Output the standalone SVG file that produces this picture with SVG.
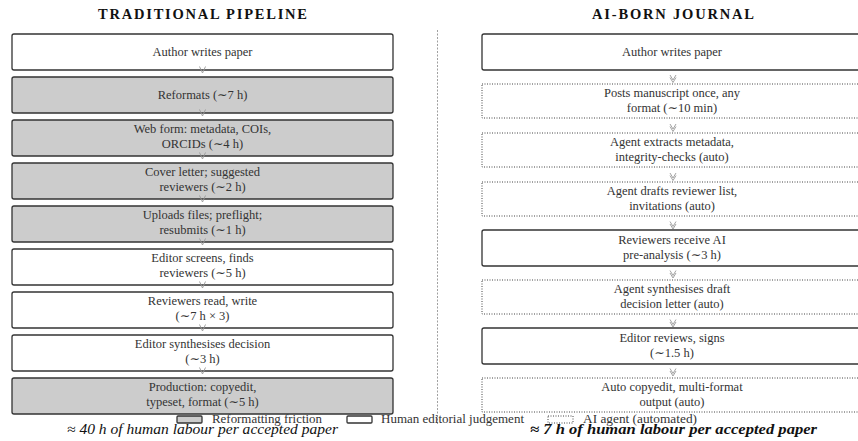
<svg xmlns="http://www.w3.org/2000/svg" xmlns:xlink="http://www.w3.org/1999/xlink" width="858" height="441" viewBox="0 0 858 441">
<style>
text{font-family:"Liberation Serif","DejaVu Serif",serif;fill:#333;font-size:12.5px;text-anchor:middle}
.title{font-weight:bold;fill:#111;font-size:14.5px}
.box{stroke:#333;stroke-width:1.3}
.friction{fill:#cccccc}
.human{fill:#ffffff}
.agent{fill:#ffffff;stroke:#444;stroke-width:1;stroke-dasharray:1 1.5}
.arr{fill:none;stroke:#999;stroke-width:0.9}
.foot{font-style:italic;font-size:14px;fill:#111}
.leg{text-anchor:start}
</style>
<defs>
<path id="v1" class="arr" d="M-3,-3.5 L0,3 L3,-3.5"/>
<g id="v2"><path class="arr" d="M-3,-3 L0,2 L3,-3"/><path class="arr" d="M-3,-0.5 L0,4.5 L3,-0.5"/></g>
</defs>
<rect width="858" height="441" fill="#fff"/>

<text class="title" x="202.5" y="18.5" textLength="209" lengthAdjust="spacing">TRADITIONAL PIPELINE</text>
<text class="title" x="673" y="18.5" textLength="162" lengthAdjust="spacing">AI-BORN JOURNAL</text>

<line x1="437.5" y1="30" x2="437.5" y2="424" stroke="#888" stroke-width="0.8" stroke-dasharray="2 1.5"/>

<g id="left-nodes">
<g id="L1"><rect class="box human" x="12" y="34" width="381" height="36" rx="2"/><text x="202.5" y="56">Author writes paper</text></g>
<g id="L2"><rect class="box friction" x="12" y="77" width="381" height="36" rx="2"/><text x="202.5" y="99">Reformats (∼7 h)</text></g>
<g id="L3"><rect class="box friction" x="12" y="120" width="381" height="36" rx="2"/><text x="202.5" y="133">Web form: metadata, COIs,</text><text x="202.5" y="147.5">ORCIDs (∼4 h)</text></g>
<g id="L4"><rect class="box friction" x="12" y="163" width="381" height="36" rx="2"/><text x="202.5" y="176">Cover letter; suggested</text><text x="202.5" y="190.5">reviewers (∼2 h)</text></g>
<g id="L5"><rect class="box friction" x="12" y="206" width="381" height="36" rx="2"/><text x="202.5" y="219">Uploads files; preflight;</text><text x="202.5" y="233.5">resubmits (∼1 h)</text></g>
<g id="L6"><rect class="box human" x="12" y="249" width="381" height="36" rx="2"/><text x="202.5" y="262">Editor screens, finds</text><text x="202.5" y="276.5">reviewers (∼5 h)</text></g>
<g id="L7"><rect class="box human" x="12" y="292" width="381" height="36" rx="2"/><text x="202.5" y="305">Reviewers read, write</text><text x="202.5" y="319.5">(∼7 h × 3)</text></g>
<g id="L8"><rect class="box human" x="12" y="335" width="381" height="36" rx="2"/><text x="202.5" y="348">Editor synthesises decision</text><text x="202.5" y="362.5">(∼3 h)</text></g>
<g id="L9"><rect class="box friction" x="12" y="378" width="381" height="36" rx="2"/><text x="202.5" y="391">Production: copyedit,</text><text x="202.5" y="405.5">typeset, format (∼5 h)</text></g>
</g>

<g id="right-nodes">
<g id="R1"><rect class="box human" x="482" y="34" width="382" height="36" rx="2"/><text x="672" y="56">Author writes paper</text></g>
<g id="R2"><rect class="agent" x="482" y="84" width="382" height="34"/><text x="672" y="97">Posts manuscript once, any</text><text x="672" y="111.5">format (∼10 min)</text></g>
<g id="R3"><rect class="agent" x="482" y="133" width="382" height="34"/><text x="672" y="146">Agent extracts metadata,</text><text x="672" y="160.5">integrity-checks (auto)</text></g>
<g id="R4"><rect class="agent" x="482" y="182" width="382" height="34"/><text x="672" y="195">Agent drafts reviewer list,</text><text x="672" y="209.5">invitations (auto)</text></g>
<g id="R5"><rect class="box human" x="482" y="230" width="382" height="36" rx="2"/><text x="672" y="244">Reviewers receive AI</text><text x="672" y="258.5">pre-analysis (∼3 h)</text></g>
<g id="R6"><rect class="agent" x="482" y="280" width="382" height="34"/><text x="672" y="293">Agent synthesises draft</text><text x="672" y="307.5">decision letter (auto)</text></g>
<g id="R7"><rect class="box human" x="482" y="328" width="382" height="36" rx="2"/><text x="672" y="342">Editor reviews, signs</text><text x="672" y="356.5">(∼1.5 h)</text></g>
<g id="R8"><rect class="agent" x="482" y="378" width="382" height="34"/><text x="672" y="391">Auto copyedit, multi-format</text><text x="672" y="405.5">output (auto)</text></g>
</g>

<g id="connectors">
<use xlink:href="#v1" x="202.5" y="70"/>
<use xlink:href="#v1" x="202.5" y="113"/>
<use xlink:href="#v1" x="202.5" y="156"/>
<use xlink:href="#v1" x="202.5" y="199"/>
<use xlink:href="#v1" x="202.5" y="242"/>
<use xlink:href="#v1" x="202.5" y="285"/>
<use xlink:href="#v1" x="202.5" y="328"/>
<use xlink:href="#v1" x="202.5" y="371"/>
<use xlink:href="#v2" x="673" y="78"/>
<use xlink:href="#v2" x="673" y="127"/>
<use xlink:href="#v2" x="673" y="176"/>
<use xlink:href="#v2" x="673" y="224.5"/>
<use xlink:href="#v2" x="673" y="273.5"/>
<use xlink:href="#v2" x="673" y="322.5"/>
<use xlink:href="#v2" x="673" y="371.5"/>
</g>

<g id="legend">
<rect class="box friction" x="177" y="416" width="25" height="7" rx="1" stroke-width="1"/>
<text class="leg" x="212" y="423" textLength="110" lengthAdjust="spacingAndGlyphs">Reformatting friction</text>
<rect class="box human" x="347" y="416" width="25" height="7" rx="1" stroke-width="1"/>
<text class="leg" x="381" y="423" textLength="143" lengthAdjust="spacingAndGlyphs">Human editorial judgement</text>
<rect class="agent" x="548" y="416" width="25" height="7"/>
<text class="leg" x="583" y="423" textLength="114" lengthAdjust="spacingAndGlyphs">AI agent (automated)</text>
</g>

<g id="footer">
<text class="foot" x="202.5" y="433.5" textLength="271" lengthAdjust="spacingAndGlyphs">≈ 40 h of human labour per accepted paper</text>
<text class="foot" x="673.5" y="433.5" font-weight="bold" textLength="287" lengthAdjust="spacingAndGlyphs">≈ 7 h of human labour per accepted paper</text>
</g>
</svg>
